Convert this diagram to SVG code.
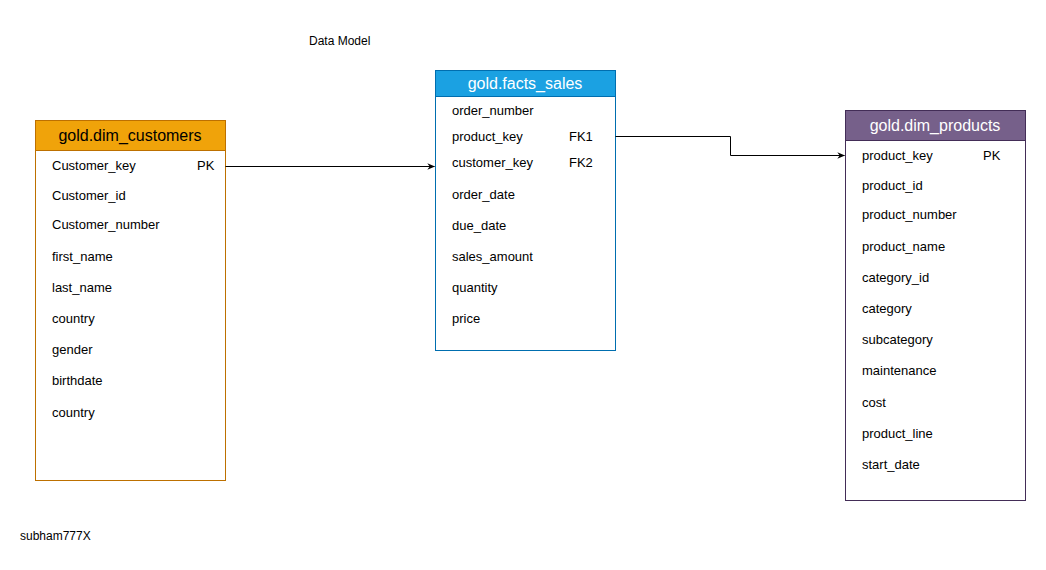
<svg xmlns="http://www.w3.org/2000/svg" width="1046" height="570" viewBox="0 0 1046 570">
<style>
text{font-family:"Liberation Sans",Arial,sans-serif;fill:#000}
.f{font-size:13px}
.h{font-size:16px;text-anchor:middle}
.w{fill:#fff}
.c{stroke:#000;stroke-width:1;fill:none}
</style>
<defs>
<marker id="a" viewBox="0 0 10 10" refX="9" refY="5" markerWidth="8" markerHeight="8" orient="auto" markerUnits="userSpaceOnUse"><path d="M0,1 L10,5 L0,9 L3,5 Z" fill="#000"/></marker>
</defs>
<rect width="1046" height="570" fill="#fff"/>
<text x="309" y="45" style="font-size:12px">Data Model</text>
<text x="20" y="540" style="font-size:12px">subham777X</text>
<g id="dim_customers">
<rect x="35.5" y="120.5" width="190" height="360" fill="#fff" stroke="#BD7000"/>
<rect x="35.5" y="120.5" width="190" height="30" fill="#f0a30a" stroke="#BD7000"/>
<text class="h" x="130" y="141">gold.dim_customers</text>
<text class="f" x="52" y="170">Customer_key</text><text class="f" x="197" y="170">PK</text>
<text class="f" x="52" y="200">Customer_id</text>
<text class="f" x="52" y="229">Customer_number</text>
<text class="f" x="52" y="261">first_name</text>
<text class="f" x="52" y="292">last_name</text>
<text class="f" x="52" y="323">country</text>
<text class="f" x="52" y="354">gender</text>
<text class="f" x="52" y="385">birthdate</text>
<text class="f" x="52" y="417">country</text>
</g>
<g id="facts_sales">
<rect x="435.5" y="70.5" width="180" height="280" fill="#fff" stroke="#006EAF"/>
<rect x="435.5" y="70.5" width="180" height="26" fill="#1ba1e2" stroke="#006EAF"/>
<text class="h w" x="525" y="89">gold.facts_sales</text>
<text class="f" x="452" y="115">order_number</text>
<text class="f" x="452" y="141">product_key</text><text class="f" x="569" y="141">FK1</text>
<text class="f" x="452" y="167">customer_key</text><text class="f" x="569" y="167">FK2</text>
<text class="f" x="452" y="199">order_date</text>
<text class="f" x="452" y="230">due_date</text>
<text class="f" x="452" y="261">sales_amount</text>
<text class="f" x="452" y="292">quantity</text>
<text class="f" x="452" y="323">price</text>
</g>
<g id="dim_products">
<rect x="845.5" y="110.5" width="180" height="390" fill="#fff" stroke="#432D57"/>
<rect x="845.5" y="110.5" width="180" height="30" fill="#76608a" stroke="#432D57"/>
<text class="h w" x="935" y="131">gold.dim_products</text>
<text class="f" x="862" y="160">product_key</text><text class="f" x="983" y="160">PK</text>
<text class="f" x="862" y="190">product_id</text>
<text class="f" x="862" y="219">product_number</text>
<text class="f" x="862" y="251">product_name</text>
<text class="f" x="862" y="282">category_id</text>
<text class="f" x="862" y="313">category</text>
<text class="f" x="862" y="344">subcategory</text>
<text class="f" x="862" y="375">maintenance</text>
<text class="f" x="862" y="407">cost</text>
<text class="f" x="862" y="438">product_line</text>
<text class="f" x="862" y="469">start_date</text>
</g>
<g id="connectors">
<path class="c" d="M225.5,166.5 H434.5" marker-end="url(#a)"/>
<path class="c" d="M615.5,136.5 H730.5 V155.5 H844.5" marker-end="url(#a)"/>
</g>
</svg>
